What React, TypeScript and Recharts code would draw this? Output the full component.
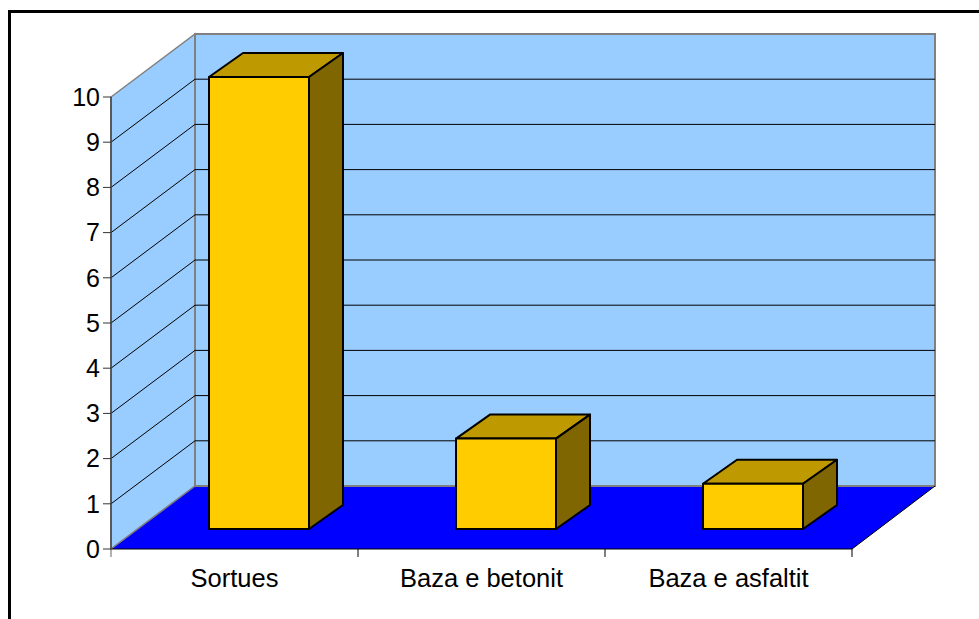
import React from 'react';
import { BarChart, Bar, XAxis, YAxis, usePlotArea } from 'recharts';

const categories = ['Sortues', 'Baza e betonit', 'Baza e asfaltit'];
const values = [10, 2, 1];
const yTicks = [0, 1, 2, 3, 4, 5, 6, 7, 8, 9, 10];

const data = categories.map((name, i) => ({ name, value: values[i] }));

const FONT = '"Liberation Sans", Arial, sans-serif';
const DEPTH_X = 83;
const DEPTH_Y = 63;
// how far the bars stand into the floor, and how deep they are
const BAR_SHIFT_X = 24;
const BAR_SHIFT_Y = 20;
const BAR_DEPTH_X = 34;
const BAR_DEPTH_Y = 24;
const MAX = 10;

const pts = (list: number[][]) => list.map((p) => p.join(',')).join(' ');

// walls and floor of the 3D box, sits behind the bars
function Walls() {
  const plot = usePlotArea();
  if (!plot) return null;
  const { x, y, width, height } = plot;
  const bottom = y + height;
  const right = x + width;
  const backX = x + DEPTH_X + 1;
  const backRight = right + DEPTH_X;
  const backBottom = bottom - DEPTH_Y;
  const frontY = (v: number) => bottom - (v / MAX) * height;
  const backY = (v: number) => frontY(v) - DEPTH_Y;
  const bandW = width / categories.length;

  return (
    <g>
      <polygon
        points={pts([[x, frontY(MAX)], [backX, backY(MAX)], [backX, backBottom], [x, bottom]])}
        fill="#99CCFF"
        stroke="#808080"
        strokeWidth={1.5}
      />
      <rect
        x={backX}
        y={backY(MAX)}
        width={backRight - backX}
        height={height}
        fill="#99CCFF"
        stroke="#808080"
        strokeWidth={2}
      />
      <polygon
        points={pts([[x, bottom], [backX, backBottom], [backRight, backBottom], [right, bottom]])}
        fill="#0000FF"
      />
      <line x1={x} y1={bottom} x2={backX} y2={backBottom} stroke="#808080" strokeWidth={1.5} />
      <line x1={backX} y1={backBottom} x2={backRight} y2={backBottom} stroke="#808080" strokeWidth={2} />
      <line x1={right} y1={bottom} x2={backRight} y2={backBottom} stroke="#000" />
      {yTicks
        .filter((v) => v > 0 && v < MAX)
        .map((v) => (
          <g key={v}>
            <line x1={x} y1={frontY(v)} x2={backX} y2={backY(v)} stroke="#000" />
            <line x1={backX} y1={backY(v)} x2={backRight} y2={backY(v)} stroke="#000" />
          </g>
        ))}
      <line x1={x} y1={bottom} x2={right} y2={bottom} stroke="#000" />
      {[0, 1, 2, 3].map((i) => (
        <line
          key={i}
          x1={x + i * bandW}
          y1={bottom}
          x2={x + i * bandW}
          y2={bottom + 8}
          stroke={i === 0 ? '#666' : '#000'}
        />
      ))}
    </g>
  );
}

function Box3D(props: any) {
  const { x, y, width, height } = props;
  const left = x + BAR_SHIFT_X;
  const top = y - BAR_SHIFT_Y;
  const r = left + width;
  const b = top + height;
  const dx = BAR_DEPTH_X;
  const dy = BAR_DEPTH_Y;
  return (
    <g stroke="#000" strokeWidth={2} strokeLinejoin="round">
      <polygon points={pts([[left, top], [left + dx, top - dy], [r + dx, top - dy], [r, top]])} fill="#BF9900" />
      <polygon points={pts([[r, top], [r + dx, top - dy], [r + dx, b - dy], [r, b]])} fill="#806600" />
      <rect x={left} y={top} width={width} height={height} fill="#FFCC00" />
    </g>
  );
}

export default function App() {
  return (
    <div style={{ position: 'fixed', left: 0, top: 0, width: 979, height: 619, overflow: 'hidden', background: '#fff' }}>
      <div
        style={{
          position: 'absolute',
          left: 8,
          top: 10,
          width: 1100,
          height: 800,
          border: '3px solid #000',
          boxSizing: 'border-box',
        }}
      />
      <div style={{ position: 'absolute', left: 0, top: 0 }}>
        <BarChart
          width={979}
          height={619}
          data={data}
          margin={{ top: 97, right: 127, bottom: 0, left: 51 }}
          barSize={100}
        >
          <Walls />
          <XAxis
            dataKey="name"
            height={70}
            axisLine={false}
            tickLine={false}
            interval={0}
            tickMargin={14}
            fontSize={25.5}
            fontFamily={FONT}
            tick={{ fill: '#000' }}
          />
          <YAxis
            width={60}
            domain={[0, MAX]}
            ticks={yTicks}
            interval={0}
            tickSize={8}
            tickMargin={3}
            fontSize={25}
            fontFamily={FONT}
            axisLine={{ stroke: '#444', strokeWidth: 1.5 }}
            tickLine={{ stroke: '#333' }}
            tick={{ fill: '#000' }}
          />
          <Bar dataKey="value" shape={Box3D} isAnimationActive={false} />
        </BarChart>
      </div>
    </div>
  );
}
